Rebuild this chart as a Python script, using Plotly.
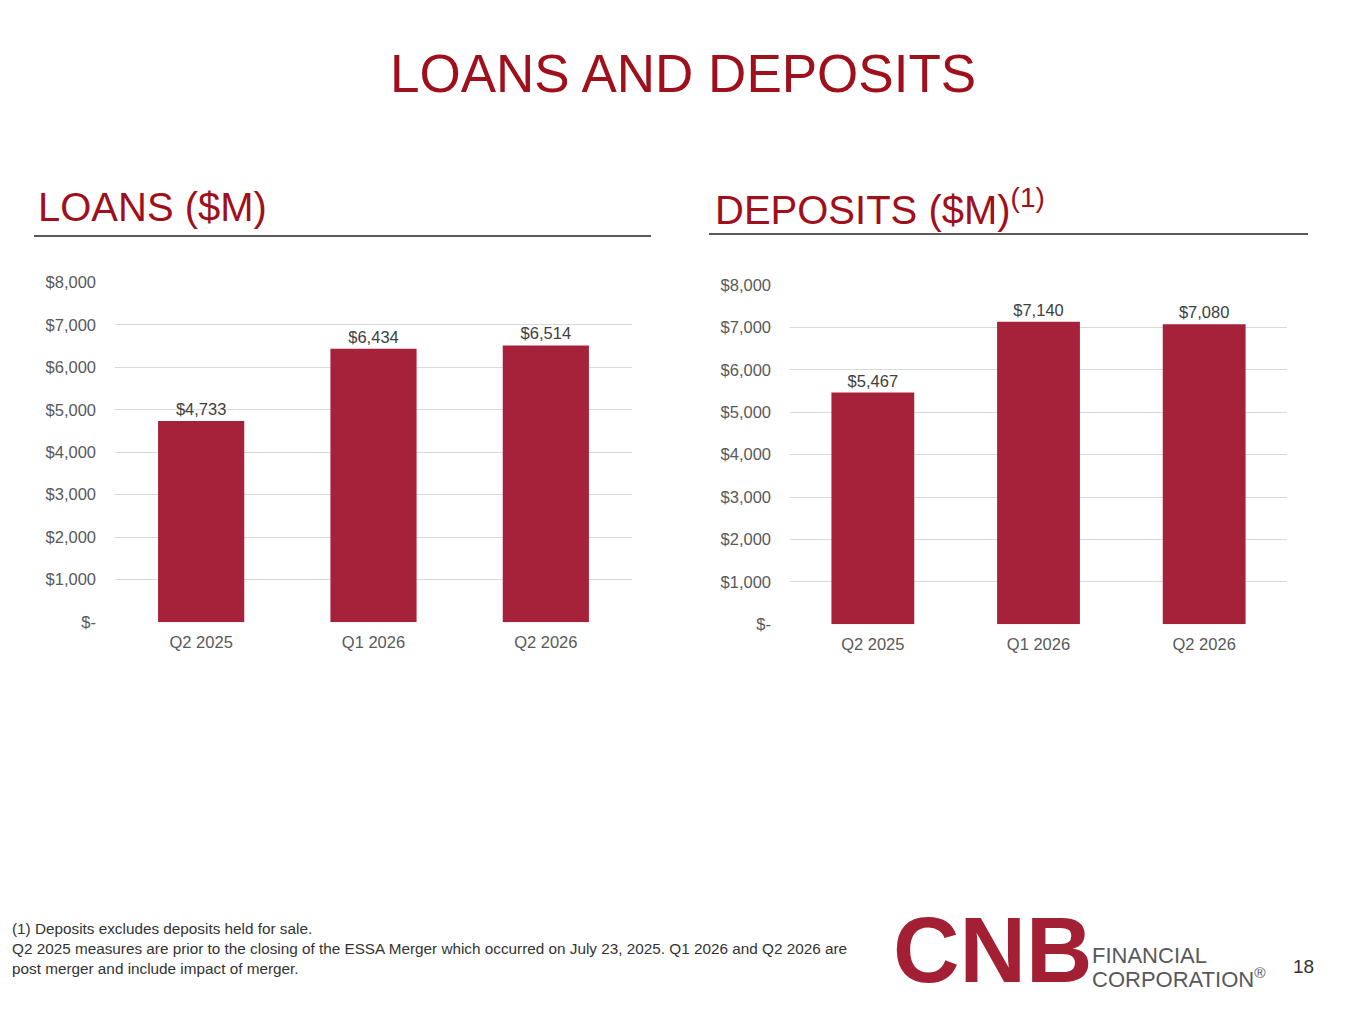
import plotly.graph_objects as go

# data
quarters = ["Q2 2025", "Q1 2026", "Q2 2026"]
loans = [4733, 6434, 6514]
deposits = [5467, 7140, 7080]
tick_vals = [0, 1000, 2000, 3000, 4000, 5000, 6000, 7000, 8000]
tick_text = ["$-", "$1,000", "$2,000", "$3,000", "$4,000", "$5,000", "$6,000", "$7,000", "$8,000"]

W, H = 1365, 1024
RED = "#A0101C"
BAR = "#A6223A"
GRAY = "#595959"
FONT = "Liberation Sans, Arial, sans-serif"


def px(x):
    return x / W


def py(y):
    return 1 - y / H


fig = go.Figure()

for vals, xa, ya in [(loans, "x", "y"), (deposits, "x2", "y2")]:
    fig.add_trace(go.Bar(
        x=quarters, y=vals, xaxis=xa, yaxis=ya, width=0.5,
        marker=dict(color=BAR, line=dict(width=0)),
        text=[f"${v:,}" for v in vals], textposition="outside",
        textfont=dict(size=16.5, color="#404040", family=FONT), cliponaxis=False,
    ))

axis_font = dict(size=16.5, color=GRAY, family=FONT)
yax = dict(range=[0, 8000], tickvals=tick_vals, ticktext=tick_text, showgrid=True,
           gridcolor="#D9D9D9", gridwidth=1, zeroline=False, showline=False,
           tickfont=axis_font, ticks="", ticklen=0, ticklabelstandoff=18, fixedrange=True)
xax = dict(showgrid=False, zeroline=False, showline=False, ticks="", tickfont=axis_font,
           ticklabelstandoff=8, fixedrange=True)

fig.update_layout(
    width=W, height=H,
    margin=dict(l=0, r=0, t=0, b=0),
    paper_bgcolor="white", plot_bgcolor="white",
    showlegend=False,
    font=dict(family=FONT),
    xaxis=dict(domain=[px(107), px(624)], anchor="y", **xax),
    yaxis=dict(domain=[py(616), py(270)], anchor="x", **yax),
    xaxis2=dict(domain=[px(782), px(1279)], anchor="y2", **xax),
    yaxis2=dict(domain=[py(618), py(273)], anchor="x2", **yax),
)

# section underlines
fig.add_shape(type="line", xref="paper", yref="paper", x0=px(26), x1=px(643), y0=py(223), y1=py(223),
              line=dict(color=GRAY, width=2))
fig.add_shape(type="line", xref="paper", yref="paper", x0=px(701), x1=px(1300), y0=py(221), y1=py(221),
              line=dict(color=GRAY, width=2))

ann = [
    dict(text="LOANS AND DEPOSITS", x=px(675), y=py(58), xanchor="center", yanchor="middle",
         font=dict(size=53, color=RED, family=FONT)),
    dict(text="LOANS ($M)", x=px(28), y=py(193), xanchor="left", yanchor="middle",
         font=dict(size=40, color=RED, family=FONT)),
    dict(text="DEPOSITS ($M)<sup>(1)</sup>", x=px(705), y=py(193), xanchor="left", yanchor="middle",
         font=dict(size=40, color=RED, family=FONT)),
    dict(text="(1) Deposits excludes deposits held for sale.<br>"
              "Q2 2025 measures are prior to the closing of the ESSA Merger which occurred on July 23, 2025. "
              "Q1 2026 and Q2 2026 are<br>post merger and include impact of merger.",
         x=px(2), y=py(917), xanchor="left", yanchor="top", align="left",
         font=dict(size=15.3, color="#333333", family=FONT)),
    dict(text="18", x=px(1295), y=py(966), xanchor="center", yanchor="middle",
         font=dict(size=19, color="#333333", family=FONT)),
    # logo, drawn as text
    dict(text="<b>CNB</b>", x=px(883), y=py(950), xanchor="left", yanchor="middle",
         font=dict(size=92, color="#A31F34", family=FONT)),
    dict(text="FINANCIAL", x=px(1082), y=py(955), xanchor="left", yanchor="middle",
         font=dict(size=22, color="#58595B", family=FONT)),
    dict(text="CORPORATION<sup>®</sup>", x=px(1082), y=py(978), xanchor="left", yanchor="middle",
         font=dict(size=22, color="#58595B", family=FONT)),
]
for a in ann:
    fig.add_annotation(xref="paper", yref="paper", showarrow=False, **a)

fig.write_html("out.html")
